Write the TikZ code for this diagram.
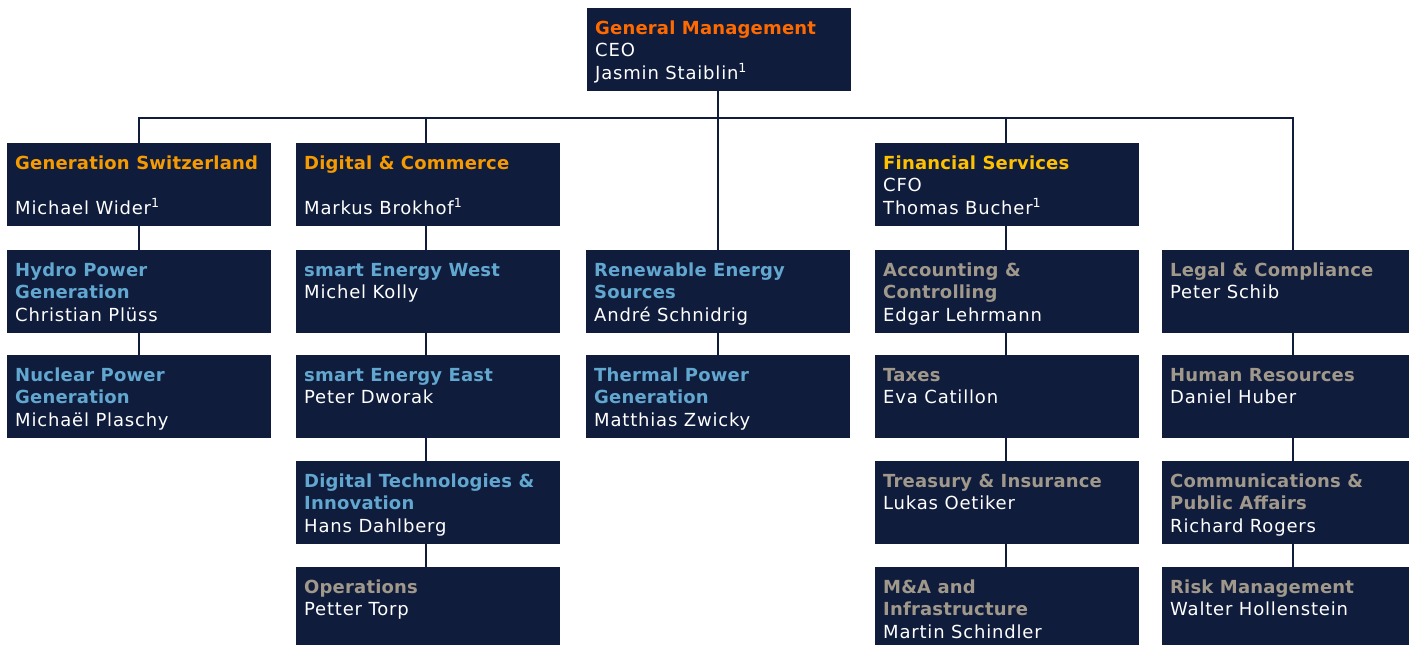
\documentclass[tikz,border=0pt]{standalone}
\usepackage{fontspec}
\setmainfont{DejaVu Sans}[LetterSpace=4.5]
\newfontfamily\titlefont{DejaVu Sans Bold}[LetterSpace=1]
\definecolor{navy}{HTML}{101C3C}
\definecolor{gmorange}{HTML}{FF6A00}
\definecolor{amber}{HTML}{F59A00}
\definecolor{gold}{HTML}{FFC000}
\definecolor{skyb}{HTML}{62A7CF}
\definecolor{taupe}{HTML}{A0998B}
\tikzset{
  obox/.style={fill=navy, draw=none, inner xsep=8pt, inner ysep=0pt, anchor=north west, text=white},
  conn/.style={draw=navy, line width=1.6pt},
}
\newcommand\orgbox[8]{%
  \node[obox] (#1) at (#2,#3) {\parbox[t][#5pt][t]{#4pt}{\raggedright\fontsize{18}{22.5}\selectfont\rule{0pt}{26pt}\textcolor{#6}{\titlefont #7}\\#8}};}
\begin{document}
\begin{tikzpicture}[x=1pt,y=-1pt]
\useasboundingbox (0,0) rectangle (1410,645);
% top
\orgbox{gm}{587}{8}{248}{83}{gmorange}{General Management}{CEO\\Jasmin Staiblin\textsuperscript{1}}
% row 1
\orgbox{gs}{7}{143}{248}{83}{amber}{Generation Switzerland}{\mbox{}\\Michael Wider\textsuperscript{1}}
\orgbox{dc}{296}{143}{248}{83}{amber}{Digital \& Commerce}{\mbox{}\\Markus Brokhof\textsuperscript{1}}
\orgbox{fs}{875}{143}{248}{83}{gold}{Financial Services}{CFO\\Thomas Bucher\textsuperscript{1}}
% row 2
\orgbox{hp}{7}{250}{248}{83}{skyb}{Hydro Power\\Generation}{Christian Plüss}
\orgbox{sew}{296}{250}{248}{83}{skyb}{smart Energy West}{Michel Kolly}
\orgbox{res}{586}{250}{248}{83}{skyb}{Renewable Energy\\Sources}{André Schnidrig}
\orgbox{ac}{875}{250}{248}{83}{taupe}{Accounting \&\\Controlling}{Edgar Lehrmann}
\orgbox{lc}{1162}{250}{231}{83}{taupe}{Legal \& Compliance}{Peter Schib}
% row 3
\orgbox{np}{7}{355}{248}{83}{skyb}{Nuclear Power\\Generation}{Michaël Plaschy}
\orgbox{see}{296}{355}{248}{83}{skyb}{smart Energy East}{Peter Dworak}
\orgbox{tp}{586}{355}{248}{83}{skyb}{Thermal Power\\Generation}{Matthias Zwicky}
\orgbox{tx}{875}{355}{248}{83}{taupe}{Taxes}{Eva Catillon}
\orgbox{hr}{1162}{355}{231}{83}{taupe}{Human Resources}{Daniel Huber}
% row 4
\orgbox{dti}{296}{461}{248}{83}{skyb}{Digital Technologies \&\\Innovation}{Hans Dahlberg}
\orgbox{ti}{875}{461}{248}{83}{taupe}{Treasury \& Insurance}{Lukas Oetiker}
\orgbox{cpa}{1162}{461}{231}{83}{taupe}{Communications \&\\Public Affairs}{Richard Rogers}
% row 5
\orgbox{op}{296}{567}{248}{78}{taupe}{Operations}{Petter Torp}
\orgbox{ma}{875}{567}{248}{78}{taupe}{M\&A and\\Infrastructure}{Martin Schindler}
\orgbox{rm}{1162}{567}{231}{78}{taupe}{Risk Management}{Walter Hollenstein}
% connectors
\coordinate (busR) at (1293,118);
\coordinate (xdc) at (426,0);
\coordinate (xfs) at (1006,0);
\coordinate (xmid) at (718,0);
\draw[conn] (xmid |- gm.south) -- (xmid |- res.north);
\draw[conn] (gs.north) |- (busR) -- (busR |- lc.north);
\draw[conn] (xdc |- busR) -- (xdc |- dc.north);
\draw[conn] (xfs |- busR) -- (xfs |- fs.north);
\draw[conn] (gs.south) -- (hp.north);
\draw[conn] (hp.south) -- (np.north);
\draw[conn] (xdc |- dc.south) -- (xdc |- sew.north);
\draw[conn] (xdc |- sew.south) -- (xdc |- see.north);
\draw[conn] (xdc |- see.south) -- (xdc |- dti.north);
\draw[conn] (xdc |- dti.south) -- (xdc |- op.north);
\draw[conn] (xmid |- res.south) -- (xmid |- tp.north);
\draw[conn] (xfs |- fs.south) -- (xfs |- ac.north);
\draw[conn] (xfs |- ac.south) -- (xfs |- tx.north);
\draw[conn] (xfs |- tx.south) -- (xfs |- ti.north);
\draw[conn] (xfs |- ti.south) -- (xfs |- ma.north);
\draw[conn] (busR |- lc.south) -- (busR |- hr.north);
\draw[conn] (busR |- hr.south) -- (busR |- cpa.north);
\draw[conn] (busR |- cpa.south) -- (busR |- rm.north);
\end{tikzpicture}
\end{document}
